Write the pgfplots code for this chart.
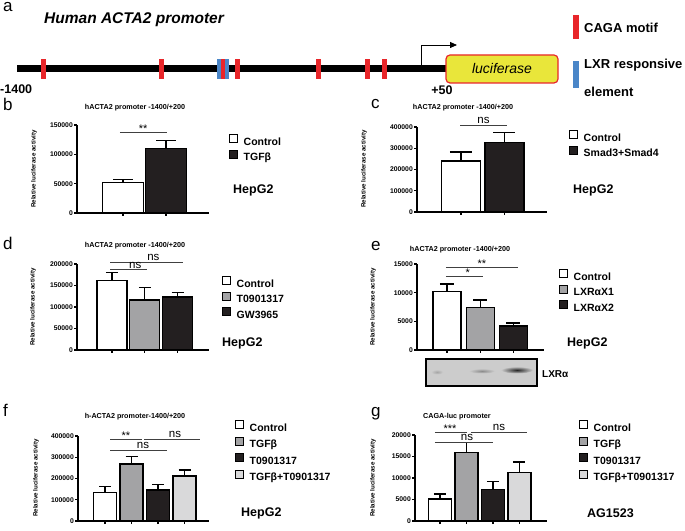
\documentclass[border=0pt]{standalone}
\usepackage{fontspec}
\setmainfont{Liberation Sans}
\usepackage{pgfplots}
\pgfplotsset{compat=1.18}
\usetikzlibrary{arrows.meta}

\definecolor{cagared}{HTML}{E8262A}
\definecolor{lxrblue}{HTML}{4A86C8}
\definecolor{lucy}{HTML}{E9E63A}
\definecolor{barg}{HTML}{A3A3A5}
\definecolor{bark}{HTML}{231F20}
\definecolor{barl}{HTML}{D9D9DA}

\newcommand{\mytk}{\fontsize{6.8}{7.5}\selectfont\bfseries}
\newcommand{\mylgf}{\fontsize{10.5}{12}\selectfont\bfseries}
\newcommand{\myttl}{\fontsize{7.2}{8}\selectfont\bfseries}
\newcommand{\mycell}{\fontsize{12.5}{14}\selectfont\bfseries}
\newcommand{\myplet}{\fontsize{17}{18}\selectfont}

\tikzset{
  sig/.style={line width=0.8pt, black!75},
  star/.style={anchor=base, font=\fontsize{11}{12}\selectfont, inner sep=0pt, yshift=-0.5pt},
  nsl/.style={anchor=base, font=\fontsize{11.5}{12}\selectfont, inner sep=0pt, yshift=1.5pt},
  ylab/.style={rotate=90, font=\fontsize{6.2}{7}\selectfont\bfseries},
}

\pgfplotsset{
  gp/.style={
    scale only axis, clip=false,
    axis x line*=bottom, axis y line*=left,
    axis line style={line width=1.3pt, black},
    tick style={line width=1.3pt, black},
    tick align=outside, major tick length=3pt,
    xticklabels={},
    scaled y ticks=false,
    yticklabel style={font=\mytk, /pgf/number format/fixed, /pgf/number format/1000 sep={}, inner sep=1pt},
    /pgf/number format/assume math mode=true,
    ymin=0,
    anchor=south west,
    legend cell align=left,
    legend style={draw=none, fill=none, font=\mylgf, row sep=2pt, inner sep=0pt, anchor=north west, at={(1,1)}, nodes={inner sep=1pt}},
  },
  bb/.style n args={3}{ybar, bar shift=0pt, bar width=#1, fill=#2, draw=black, line width=1.3pt,
     legend image code/.code={\draw[fill=#2, draw=black, line width=1pt] (0pt,-0.5pt) rectangle (8pt,7.5pt); \path[draw=none, fill=none] (0pt,0pt) -- (13pt,0pt);},
     error bars/.cd, y dir=plus, y explicit, error bar style={line width=1.3pt, black}, error mark options={rotate=90, line width=1.3pt, black, mark size=#3}},
}

\begin{document}
\begin{tikzpicture}
\path[use as bounding box] (0,0) rectangle (685pt,530pt);

% ---------------- panel a ----------------
\node[anchor=base west, inner sep=0pt, font=\myplet] at (3pt,518pt) {a};
\node[anchor=west, inner sep=0pt, font=\fontsize{15.5}{17}\selectfont\bfseries\itshape] at (44pt,510pt) {Human ACTA2 promoter};
\fill[black] (17pt,458pt) rectangle (446pt,465pt);
\foreach \xx in {43,161,237,318,367,384}{\fill[cagared] (\xx pt-2.5pt,451pt) rectangle (\xx pt+2.5pt,471pt);}
\fill[lxrblue] (217pt,451pt) rectangle (229pt,471pt);
\fill[cagared] (221pt,451pt) rectangle (225pt,471pt);
\draw[line width=0.8pt, -{Triangle[length=7pt,width=6pt]}] (421pt,465pt) -- (421pt,485pt) -- (457pt,485pt);
\draw[fill=lucy, draw=cagared, line width=1.2pt, rounded corners=4pt] (446pt,447pt) rectangle (558pt,475pt);
\node[font=\fontsize{14}{16}\selectfont\itshape] at (502pt,461pt) {luciferase};
\node[anchor=west, inner sep=0pt, font=\fontsize{12.5}{14}\selectfont\bfseries] at (0pt,441pt) {-1400};
\node[inner sep=0pt, font=\fontsize{12.5}{14}\selectfont\bfseries] at (442pt,440pt) {+50};
\fill[cagared] (573pt,491pt) rectangle (579pt,515pt);
\node[anchor=west, inner sep=0pt, font=\fontsize{13}{15}\selectfont\bfseries] at (584pt,502pt) {CAGA motif};
\fill[lxrblue] (573pt,442pt) rectangle (579pt,469pt);
\node[anchor=west, inner sep=0pt, font=\fontsize{13}{15}\selectfont\bfseries] at (584pt,465pt) {LXR responsive};
\node[anchor=west, inner sep=0pt, font=\fontsize{13}{15}\selectfont\bfseries] at (584pt,438pt) {element};

% ---------------- panel b ----------------
\node[anchor=base west, inner sep=0pt, font=\myplet] at (3pt,419pt) {b};
\node[font=\myttl] at (135pt,422pt) {hACTA2 promoter -1400/+200};
\node[ylab] at (34pt,361pt) {Relative luciferase activity};
\node[anchor=west, inner sep=0pt, font=\mycell] at (233pt,340pt) {HepG2};
\begin{axis}[gp, at={(77pt,317pt)}, width=132pt, height=88pt, xmin=-0.07, xmax=3.0,
  ymax=150000, ytick={0,50000,100000,150000}, xtick={1,2},
  legend style={xshift=20pt, yshift=-9pt}]
\addplot[bb={41pt}{white}{10pt}] coordinates {(1,52000) +- (0,5000)};
\addlegendentry{Control}
\addplot[bb={41pt}{bark}{10pt}] coordinates {(2,110000) +- (0,13000)};
\addlegendentry{TGFβ}
\draw[sig] (axis cs:0.93,138000) -- (axis cs:2.02,138000);
\node[star] at (axis cs:1.47,138000) {**};
\end{axis}

% ---------------- panel c ----------------
\node[anchor=base west, inner sep=0pt, font=\myplet] at (371pt,421pt) {c};
\node[font=\myttl] at (463pt,422pt) {hACTA2 promoter -1400/+200};
\node[ylab] at (364pt,361pt) {Relative luciferase activity};
\node[anchor=west, inner sep=0pt, font=\mycell] at (573pt,340pt) {HepG2};
\begin{axis}[gp, at={(417pt,318pt)}, width=130pt, height=85pt, xmin=-0.01, xmax=2.98,
  ymax=400000, ytick={0,100000,200000,300000,400000}, xtick={1,2},
  legend style={xshift=22pt, yshift=-3pt}]
\addplot[bb={39pt}{white}{11pt}] coordinates {(1,240000) +- (0,42000)};
\addlegendentry{Control}
\addplot[bb={39pt}{bark}{11pt}] coordinates {(2,326000) +- (0,47000)};
\addlegendentry{Smad3+Smad4}
\draw[sig] (axis cs:0.98,409000) -- (axis cs:2.06,409000);
\node[nsl] at (axis cs:1.52,409000) {ns};
\end{axis}

% ---------------- panel d ----------------
\node[anchor=base west, inner sep=0pt, font=\myplet] at (3pt,280pt) {d};
\node[font=\myttl] at (135pt,284pt) {hACTA2 promoter -1400/+200};
\node[ylab] at (33pt,223pt) {Relative luciferase activity};
\node[anchor=west, inner sep=0pt, font=\mycell] at (222pt,187pt) {HepG2};
\begin{axis}[gp, at={(77pt,180pt)}, width=132pt, height=86pt, xmin=-0.06, xmax=3.95,
  ymax=200000, ytick={0,50000,100000,150000,200000}, xtick={1,2,3},
  legend style={xshift=13pt, yshift=-12pt}]
\addplot[bb={30pt}{white}{6pt}] coordinates {(1,161000) +- (0,20000)};
\addlegendentry{Control}
\addplot[bb={30pt}{barg}{6pt}] coordinates {(2,116000) +- (0,30000)};
\addlegendentry{T0901317}
\addplot[bb={30pt}{bark}{6pt}] coordinates {(3,123000) +- (0,11000)};
\addlegendentry{GW3965}
\draw[sig] (axis cs:0.95,188000) -- (axis cs:2.06,188000);
\draw[sig] (axis cs:0.95,204700) -- (axis cs:3.17,204700);
\node[nsl, yshift=-0.5pt] at (axis cs:1.71,188000) {ns};
\node[nsl] at (axis cs:2.26,204700) {ns};
\end{axis}

% ---------------- panel e ----------------
\node[anchor=base west, inner sep=0pt, font=\myplet] at (371pt,279pt) {e};
\node[font=\myttl] at (460pt,280pt) {hACTA2 promoter -1400/+200};
\node[ylab] at (373pt,223pt) {Relative luciferase activity};
\node[anchor=west, inner sep=0pt, font=\mycell] at (567pt,187pt) {HepG2};
\begin{axis}[gp, at={(417pt,180pt)}, width=127pt, height=86pt, xmin=0.1, xmax=3.92,
  ymax=15000, ytick={0,5000,10000,15000}, xtick={1,2,3},
  legend style={xshift=15pt, yshift=-5pt}]
\addplot[bb={28pt}{white}{7pt}] coordinates {(1,10200) +- (0,1300)};
\addlegendentry{Control}
\addplot[bb={28pt}{barg}{7pt}] coordinates {(2,7470) +- (0,1250)};
\addlegendentry{LXRαX1}
\addplot[bb={28pt}{bark}{7pt}] coordinates {(3,4200) +- (0,530)};
\addlegendentry{LXRαX2}
\draw[sig] (axis cs:0.97,12900) -- (axis cs:2.08,12900);
\draw[sig] (axis cs:0.97,14480) -- (axis cs:3.14,14480);
\node[star] at (axis cs:1.63,12900) {*};
\node[star] at (axis cs:2.05,14480) {**};
\end{axis}
% western blot
\draw[line width=1.8pt, fill=black!20] (426pt,144pt) rectangle (537pt,171pt);
\shade[inner color=black!35, outer color=black!20] (437pt,158pt) ellipse (6pt and 2.5pt);
\shade[inner color=black!45, outer color=black!20] (482pt,159pt) ellipse (13pt and 2.5pt);
\shade[inner color=black!85, outer color=black!20] (517pt,160pt) ellipse (16pt and 3.5pt);
\node[anchor=west, inner sep=0pt, font=\fontsize{10}{12}\selectfont\bfseries] at (542pt,156pt) {LXRα};

% ---------------- panel f ----------------
\node[anchor=base west, inner sep=0pt, font=\myplet] at (3pt,113pt) {f};
\node[font=\myttl] at (135pt,113pt) {h-ACTA2 promoter-1400/+200};
\node[ylab] at (36pt,52pt) {Relative luciferase activity};
\node[anchor=west, inner sep=0pt, font=\mycell] at (241pt,17pt) {HepG2};
\begin{axis}[gp, at={(78pt,9pt)}, width=131pt, height=85pt, xmin=-0.02, xmax=4.92,
  ymax=400000, ytick={0,100000,200000,300000,400000}, xtick={1,2,3,4},
  legend style={xshift=26pt, yshift=16pt, row sep=3pt}]
\addplot[bb={23pt}{white}{6pt}] coordinates {(1,135000) +- (0,27000)};
\addlegendentry{Control}
\addplot[bb={23pt}{barg}{6pt}] coordinates {(2,268000) +- (0,34000)};
\addlegendentry{TGFβ}
\addplot[bb={23pt}{bark}{6pt}] coordinates {(3,146000) +- (0,27000)};
\addlegendentry{T0901317}
\addplot[bb={23pt}{barl}{6pt}] coordinates {(4,212000) +- (0,28000)};
\addlegendentry{TGFβ+T0901317}
\draw[sig] (axis cs:1.19,386000) -- (axis cs:2.40,386000);
\draw[sig] (axis cs:2.47,386000) -- (axis cs:4.58,386000);
\draw[sig] (axis cs:1.19,334000) -- (axis cs:3.34,334000);
\node[star] at (axis cs:1.79,386000) {**};
\node[nsl] at (axis cs:3.64,386000) {ns};
\node[nsl] at (axis cs:2.43,334000) {ns};
\end{axis}

% ---------------- panel g ----------------
\node[anchor=base west, inner sep=0pt, font=\myplet] at (371pt,113pt) {g};
\node[font=\myttl] at (457pt,113pt) {CAGA-luc promoter};
\node[ylab] at (373pt,52pt) {Relative luciferase activity};
\node[anchor=west, inner sep=0pt, font=\mycell] at (587pt,17pt) {AG1523};
\begin{axis}[gp, at={(415pt,9pt)}, width=132pt, height=86pt, xmin=0.06, xmax=5.04,
  ymax=20000, ytick={0,5000,10000,15000,20000}, xtick={1,2,3,4},
  legend style={xshift=32pt, yshift=15pt, row sep=3pt}]
\addplot[bb={23pt}{white}{6pt}] coordinates {(1,5100) +- (0,1200)};
\addlegendentry{Control}
\addplot[bb={23pt}{barg}{6pt}] coordinates {(2,16000) +- (0,2300)};
\addlegendentry{TGFβ}
\addplot[bb={23pt}{bark}{6pt}] coordinates {(3,7300) +- (0,1900)};
\addlegendentry{T0901317}
\addplot[bb={23pt}{barl}{6pt}] coordinates {(4,11200) +- (0,2500)};
\addlegendentry{TGFβ+T0901317}
\draw[sig] (axis cs:0.81,20700) -- (axis cs:2.02,20700);
\draw[sig] (axis cs:2.17,20700) -- (axis cs:4.28,20700);
\draw[sig] (axis cs:0.81,18370) -- (axis cs:3.0,18370);
\node[star] at (axis cs:1.38,20700) {***};
\node[nsl] at (axis cs:3.23,20700) {ns};
\node[nsl] at (axis cs:2.02,18370) {ns};
\end{axis}
\end{tikzpicture}
\end{document}
